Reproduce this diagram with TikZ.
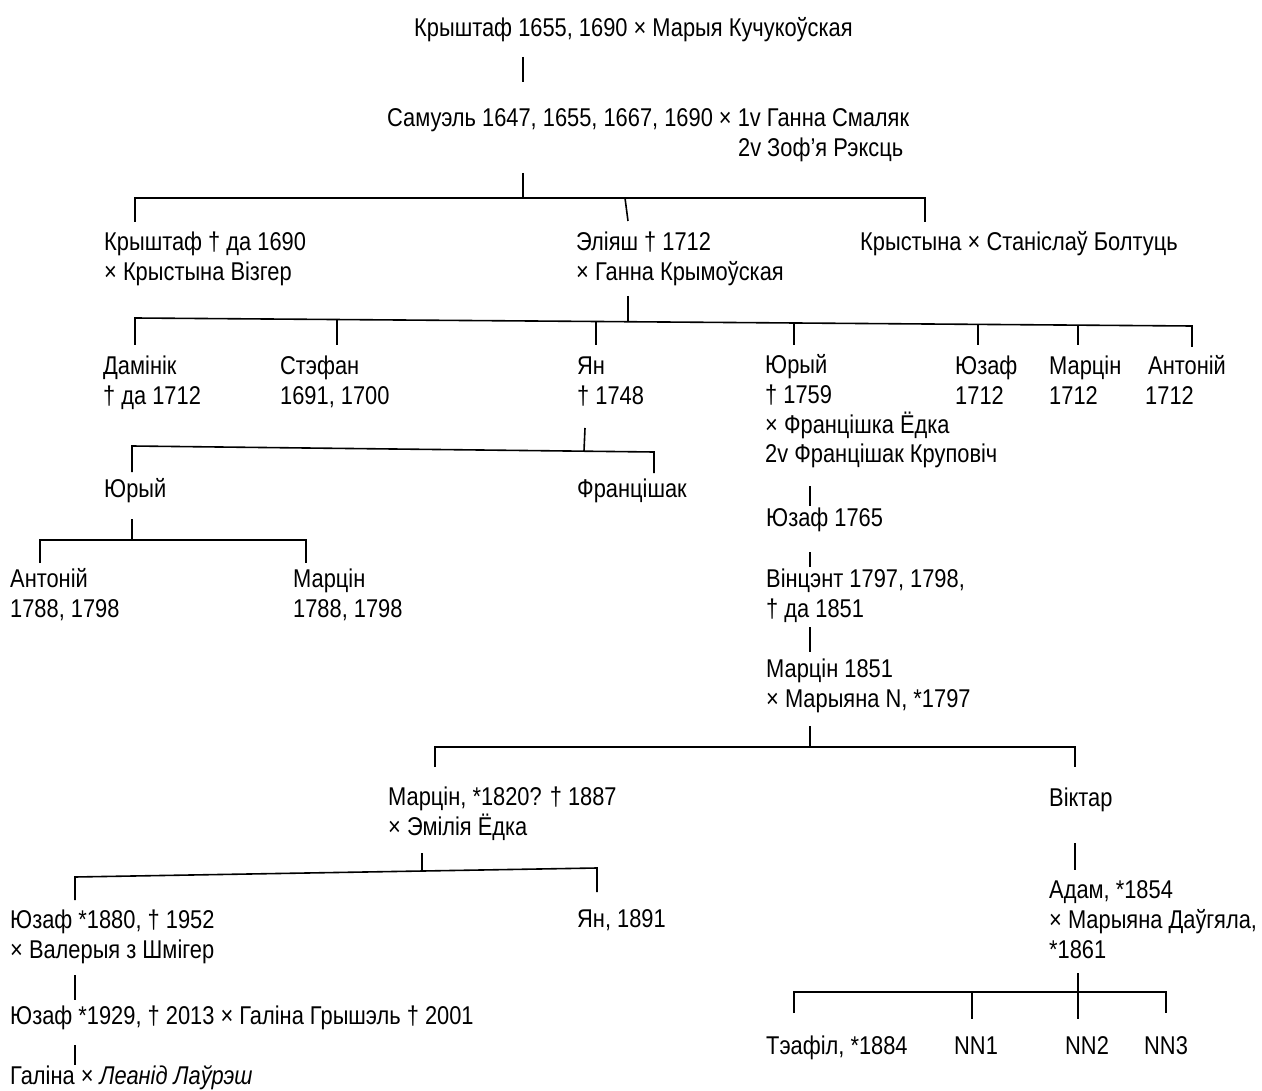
\documentclass[tikz,border=0pt]{standalone}
\usepackage{fontspec}
\setmainfont{Liberation Sans}[FakeStretch=0.85]
\usetikzlibrary{calc}

\begin{document}
\begin{tikzpicture}[x=1pt,y=-1pt,
    person/.style={anchor=base west,inner sep=0pt,align=left,
      font=\fontsize{25.7}{30}\selectfont},
    link/.style={line width=1.6pt}]
  \useasboundingbox (0,0) rectangle (1262,1091);

  % generations (placed at the baseline of the last line)
  \node[person] (krysht) at (414,37) {Крыштаф 1655, 1690 × Марыя Кучукоўская};
  \node[person,align=right] (samuel) at (387,157) {Самуэль 1647, 1655, 1667, 1690 × 1v Ганна Смаляк\\2v Зоф’я Рэксць\hspace*{6pt}};
  \node[person] (krysht2) at (104,281) {Крыштаф † да 1690\\× Крыстына Візгер};
  \node[person] (eliash) at (576,281) {Эліяш † 1712\\× Ганна Крымоўская};
  \node[person] (krystsina) at (860,251) {Крыстына × Станіслаў Болтуць};
  \node[person] (daminik) at (103,405) {Дамінік\\† да 1712};
  \node[person] (stefan) at (280,405) {Стэфан\\1691, 1700};
  \node[person] (jan) at (577,405) {Ян\\† 1748};
  \node[person] (jury) at (765,463) {Юрый\\† 1759\\× Францішка Ёдка\\2v Францішак Круповіч};
  \node[person] (juzaf) at (955,405) {Юзаф\\1712};
  \node[person] (marcin) at (1049,405) {Марцін\\1712};
  \node[person] (antoni) at (1145,405) {\hspace*{3pt}Антоній\\1712};
  \node[person] (jury2) at (104,497) {Юрый};
  \node[person] (francishak) at (577,497) {Францішак};
  \node[person] (antoni2) at (10,617) {Антоній\\1788, 1798};
  \node[person] (marcin2) at (293,617) {Марцін\\1788, 1798};
  \node[person] (juzaf2) at (766,526) {Юзаф 1765};
  \node[person] (vincent) at (766,617) {Вінцэнт 1797, 1798,\\† да 1851};
  \node[person] (marcin3) at (766,707) {Марцін 1851\\× Марыяна N, *1797};
  \node[person] (marcin4) at (388,835) {Марцін, *1820? † 1887\\× Эмілія Ёдка};
  \node[person] (viktar) at (1049,806) {Віктар};
  \node[person] (juzaf3) at (10,958) {Юзаф *1880, † 1952\\× Валерыя з Шмігер};
  \node[person] (jan2) at (577,927) {Ян, 1891};
  \node[person] (adam) at (1049,958) {Адам, *1854\\× Марыяна Даўгяла,\\*1861};
  \node[person] (juzaf4) at (10,1024) {Юзаф *1929, † 2013 × Галіна Грышэль † 2001};
  \node[person] (galina) at (10,1084) {Галіна × \textit{Леанід Лаўрэш}};
  \node[person] (teafil) at (766,1054) {Тэафіл, *1884};
  \node[person] (nn1) at (954,1054) {NN1};
  \node[person] (nn2) at (1065,1054) {NN2};
  \node[person] (nn3) at (1144,1054) {NN3};

  % stubs
  \coordinate (k0) at (523,57);   \coordinate (k1) at (523,82);
  \coordinate (s0) at (523,173);  \coordinate (s1) at (523,198);
  \coordinate (e0) at (628,296);  \coordinate (e1) at (628,321);
  \coordinate (j0) at (585,428);  \coordinate (j1) at (584,451);
  \coordinate (y0) at (132,519);  \coordinate (y1) at (132,540);
  \coordinate (u0) at (810,486);  \coordinate (u1) at (810,506);
  \coordinate (z0) at (810,552);  \coordinate (z1) at (810,567);
  \coordinate (v0) at (810,627);  \coordinate (v1) at (810,652);
  \coordinate (m0) at (810,726);  \coordinate (m1) at (810,747);
  \coordinate (r0) at (422,853);  \coordinate (r1) at (422,871);
  \coordinate (w0) at (1075,843); \coordinate (w1) at (1075,870);
  \coordinate (g0) at (75,975);   \coordinate (g1) at (75,1000);
  \coordinate (h0) at (75,1045);  \coordinate (h1) at (75,1065);
  \coordinate (a0) at (1078,973); \coordinate (a1) at (1078,1019);
  \foreach \p in {k,s,e,j,y,u,z,v,m,r,w,g,h,a}
    \draw[link] (\p0) -- (\p1);

  % Самуэль's children
  \coordinate (sa) at (135,222); \coordinate (sb) at (135,198);
  \coordinate (sc) at (925,198); \coordinate (sd) at (925,222);
  \coordinate (se) at (625,198); \coordinate (sf) at (628,221);
  \draw[link] (sa) -- (sb) -- (sc) -- (sd);
  \draw[link] (se) -- (sf);

  % Эліяш's children
  \coordinate (ea) at (135,345);  \coordinate (eb) at (135,318);
  \coordinate (ec) at (1192,326); \coordinate (ed) at (1192,347);
  \draw[link] (ea) -- (eb) -- (ec) -- (ed);
  \foreach \x in {337,596,794,978,1078}
    \draw[link] ($(eb)!{(\x-135)/1057}!(ec)$) -- (\x,345);

  % Ян's children
  \coordinate (ja) at (132,472); \coordinate (jb) at (132,446);
  \coordinate (jc) at (654,452); \coordinate (jd) at (654,473);
  \draw[link] (ja) -- (jb) -- (jc) -- (jd);

  % Юрый's children
  \coordinate (ya) at (40,563);  \coordinate (yb) at (40,540);
  \coordinate (yc) at (306,540); \coordinate (yd) at (306,563);
  \draw[link] (ya) -- (yb) -- (yc) -- (yd);

  % Марцін 1851's children
  \coordinate (ma) at (435,767);  \coordinate (mb) at (435,747);
  \coordinate (mc) at (1075,747); \coordinate (md) at (1075,767);
  \draw[link] (ma) -- (mb) -- (mc) -- (md);

  % Марцін 1887's children
  \coordinate (ra) at (75,900);  \coordinate (rb) at (75,877);
  \coordinate (rc) at (597,868); \coordinate (rd) at (597,892);
  \draw[link] (ra) -- (rb) -- (rc) -- (rd);

  % Адам's children
  \coordinate (aa) at (794,1013);  \coordinate (ab) at (794,992);
  \coordinate (ac) at (1166,992);  \coordinate (ad) at (1166,1013);
  \coordinate (ae) at (972,992);   \coordinate (af) at (972,1019);
  \draw[link] (aa) -- (ab) -- (ac) -- (ad);
  \draw[link] (ae) -- (af);
\end{tikzpicture}
\end{document}
